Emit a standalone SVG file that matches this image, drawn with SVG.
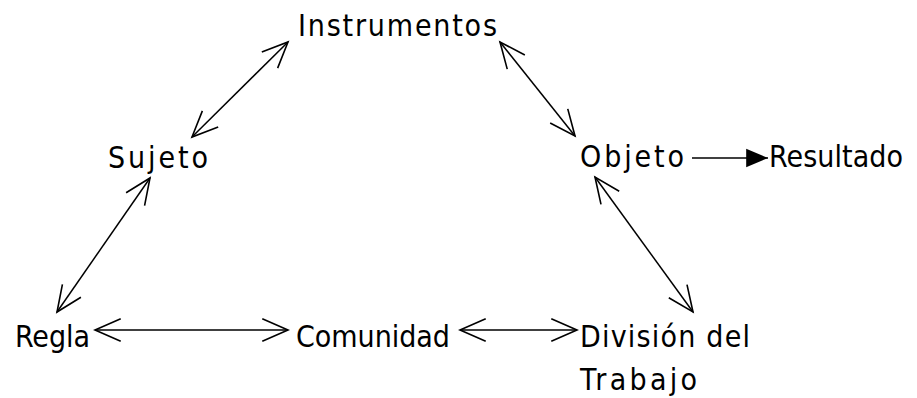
<svg xmlns="http://www.w3.org/2000/svg" width="917" height="398" viewBox="0 0 917 398">
<style>
text{font-family:"DejaVu Sans Condensed","Liberation Sans",Arial,sans-serif;font-size:30px;fill:#000}
.c{stroke:#000;stroke-width:1.5;fill:none}
</style>
<defs>
<marker id="open" markerUnits="userSpaceOnUse" markerWidth="30" markerHeight="30" viewBox="-26 -13 28 26" refX="0" refY="0" orient="auto-start-reverse">
<path d="M-24,-10.5 L0,0 L-24,10.5" fill="none" stroke="#000" stroke-width="1.5"/>
</marker>
<marker id="solid" markerUnits="userSpaceOnUse" markerWidth="24" markerHeight="24" viewBox="-21 -10 22 20" refX="0" refY="0" orient="auto">
<path d="M-20,-8.5 L0,0 L-20,8.5 Z" fill="#000"/>
</marker>
</defs>
<rect width="917" height="398" fill="#fff"/>
<g id="connectors">
<line class="c" x1="192" y1="137" x2="288" y2="42" marker-start="url(#open)" marker-end="url(#open)"/>
<line class="c" x1="500" y1="42" x2="575" y2="136" marker-start="url(#open)" marker-end="url(#open)"/>
<line class="c" x1="150" y1="178" x2="57" y2="312" marker-start="url(#open)" marker-end="url(#open)"/>
<line class="c" x1="595" y1="177" x2="693" y2="312" marker-start="url(#open)" marker-end="url(#open)"/>
<line class="c" x1="95" y1="330" x2="288" y2="330" marker-start="url(#open)" marker-end="url(#open)"/>
<line class="c" x1="460" y1="330" x2="577" y2="330" marker-start="url(#open)" marker-end="url(#open)"/>
<line class="c" x1="692" y1="158" x2="768" y2="158" marker-end="url(#solid)"/>
</g>
<g id="instrumentos"><text x="298" y="36" textLength="199" lengthAdjust="spacing">Instrumentos</text></g>
<g id="sujeto"><text x="108" y="168" textLength="100" lengthAdjust="spacing">Sujeto</text></g>
<g id="objeto"><text x="580" y="167" textLength="104" lengthAdjust="spacing">Objeto</text></g>
<g id="resultado"><text x="769" y="167" textLength="134" lengthAdjust="spacing">Resultado</text></g>
<g id="regla"><text x="15" y="347" textLength="75" lengthAdjust="spacing">Regla</text></g>
<g id="comunidad"><text x="296" y="347" textLength="154" lengthAdjust="spacing">Comunidad</text></g>
<g id="division"><text x="580" y="347" textLength="170" lengthAdjust="spacing">División del</text><text x="580" y="390" textLength="117" lengthAdjust="spacing">Trabajo</text></g>
</svg>
